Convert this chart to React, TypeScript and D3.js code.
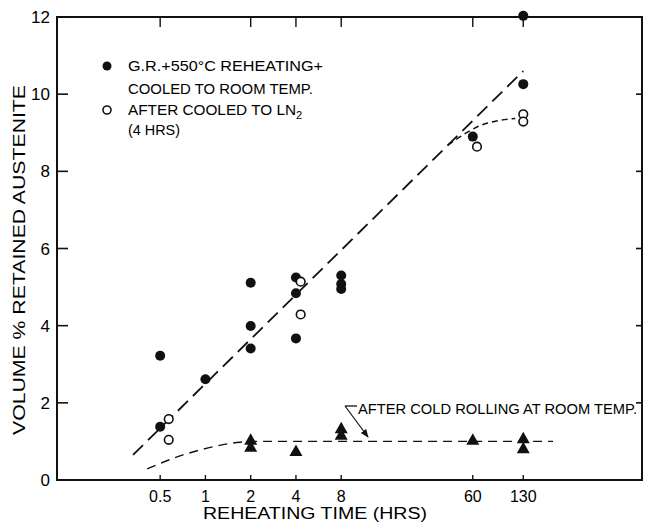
import React from "react";
import * as d3 from "d3";

const W = 647;
const H = 523;

const xTicksBottom = [0.5, 1, 2, 4, 8, 60, 130];
const xTickLabels = ["0.5", "1", "2", "4", "8", "60", "130"];
const xTicksTop = [0.5, 2, 4, 8, 60, 130];
const yTicks = [0, 2, 4, 6, 8, 10, 12];
const yTickLabels = ["0", "2", "4", "6", "8", "10", "12"];
const rightTicks = [2, 4, 6, 8, 10];

// G.R. + 550°C reheating + cooled to room temp (filled circles)
const filledX = [0.5, 0.5, 1, 2, 2, 2, 4, 4, 4, 8, 8, 8, 60, 130, 130];
const filledY = [3.22, 1.38, 2.61, 5.11, 3.99, 3.41, 5.25, 4.84, 3.67, 5.3, 5.08, 4.95, 8.9, 10.26, 12.03];

// After cooled to LN2 (open circles)
const openX = [0.57, 0.57, 4.3, 4.3, 64, 130, 130];
const openY = [1.58, 1.04, 5.14, 4.29, 8.64, 9.48, 9.29];

// After cold rolling at room temp (triangles)
const triX = [2, 2, 4, 8, 8, 60, 130, 130];
const triY = [1.04, 0.86, 0.75, 1.34, 1.17, 1.04, 1.08, 0.82];

// fitted lines
const fitX = [0.33, 130];
const fitY = [0.65, 10.6];
const ln2X = [41, 52, 64, 85, 115];
const ln2Y = [8.68, 8.95, 9.15, 9.3, 9.37];
const coldX = [0.41, 0.71, 1.12, 1.7, 2.2, 205];
const coldY = [0.29, 0.65, 0.86, 0.98, 1.0, 1.0];

const X0 = 57, X1 = 642, Y0 = 480, Y1 = 17;

export default function App() {
  const x = d3.scaleLog().domain([0.103, 801]).range([X0, X1]);
  const y = d3.scaleLinear().domain([0, 12]).range([Y0, Y1]);
  const zip = (a: number[], b: number[]) => a.map((v, i) => [v, b[i]] as [number, number]);
  const lineStraight = d3.line<[number, number]>().x(d => x(d[0])).y(d => y(d[1]));
  const lineCurve = d3.line<[number, number]>().x(d => x(d[0])).y(d => y(d[1])).curve(d3.curveMonotoneX);
  const font = "'Liberation Sans', Arial, sans-serif";
  const tri = (cx: number, cy: number) => `M${cx},${cy - 6.5} L${cx + 6.5},${cy + 5} L${cx - 6.5},${cy + 5} Z`;

  return (
    <svg width={W} height={H} style={{ position: "absolute", left: 0, top: 0, background: "#fff" }} fontFamily={font}>
      <defs>
        <marker id="arr" viewBox="0 0 10 10" refX="9" refY="5" markerWidth="7" markerHeight="7" orient="auto">
          <path d="M0,1 L10,5 L0,9 Z" fill="#111" />
        </marker>
      </defs>
      {/* frame */}
      <path d={`M${X0},${Y1} L${X1},${Y1} L${X1},${Y0} L${X0},${Y0} Z`} fill="none" stroke="#111" strokeWidth={2} />
      {/* left ticks */}
      {yTicks.map((t, i) => (
        <g key={"yl" + i}>
          <line x1={X0} x2={X0 + 11} y1={y(t)} y2={y(t)} stroke="#111" strokeWidth={1.6} />
          <text x={50} y={y(t) + 6} textAnchor="end" fontSize={17}>{yTickLabels[i]}</text>
        </g>
      ))}
      {/* right ticks */}
      {rightTicks.map((t, i) => (
        <line key={"yr" + i} x1={X1 - 6} x2={X1} y1={y(t)} y2={y(t)} stroke="#111" strokeWidth={1.6} />
      ))}
      {/* bottom ticks */}
      {xTicksBottom.map((t, i) => (
        <g key={"xb" + i}>
          <line x1={x(t)} x2={x(t)} y1={Y0} y2={Y0 - 5} stroke="#111" strokeWidth={1.4} />
          <text x={x(t)} y={502} textAnchor="middle" fontSize={16}>{xTickLabels[i]}</text>
        </g>
      ))}
      {/* top ticks */}
      {xTicksTop.map((t, i) => (
        <line key={"xt" + i} x1={x(t)} x2={x(t)} y1={Y1} y2={Y1 + 10} stroke="#111" strokeWidth={1.4} />
      ))}
      {/* axis titles */}
      <text x={203} y={519} fontSize={16} textLength={224} lengthAdjust="spacingAndGlyphs">REHEATING TIME (HRS)</text>
      <text transform="translate(25,260) rotate(-90)" textAnchor="middle" fontSize={16} textLength={350} lengthAdjust="spacingAndGlyphs">VOLUME % RETAINED AUSTENITE</text>

      {/* lines */}
      <path d={lineStraight(zip(fitX, fitY)) || ""} fill="none" stroke="#111" strokeWidth={1.8} strokeDasharray="14,7" />
      <path d={lineCurve(zip(ln2X, ln2Y)) || ""} fill="none" stroke="#111" strokeWidth={1.5} strokeDasharray="6,4" />
      <path d={lineCurve(zip(coldX, coldY)) || ""} fill="none" stroke="#111" strokeWidth={1.4} strokeDasharray="9,6" />

      {/* markers */}
      {filledX.map((v, i) => (
        <circle key={"f" + i} cx={x(v)} cy={y(filledY[i])} r={5} fill="#111" />
      ))}
      {openX.map((v, i) => (
        <circle key={"o" + i} cx={x(v)} cy={y(openY[i])} r={4.3} fill="#fff" stroke="#111" strokeWidth={1.6} />
      ))}
      {triX.map((v, i) => (
        <path key={"t" + i} d={tri(x(v), y(triY[i]))} fill="#111" />
      ))}

      {/* legend */}
      <circle cx={107} cy={66} r={4.5} fill="#111" />
      <text x={128} y={71} fontSize={14.5} textLength={195} lengthAdjust="spacingAndGlyphs">G.R.+550°C REHEATING+</text>
      <text x={128} y={94} fontSize={14.5} textLength={185} lengthAdjust="spacingAndGlyphs">COOLED TO ROOM TEMP.</text>
      <circle cx={107} cy={110} r={4} fill="#fff" stroke="#111" strokeWidth={1.6} />
      <text x={128} y={115} fontSize={14.5}>
        <tspan textLength={168} lengthAdjust="spacingAndGlyphs">AFTER COOLED TO LN</tspan>
        <tspan fontSize={11} dy={4}>2</tspan>
      </text>
      <text x={128} y={135} fontSize={14.5} textLength={52} lengthAdjust="spacingAndGlyphs">(4 HRS)</text>

      {/* annotation */}
      <line x1={345} x2={357} y1={406} y2={406} stroke="#111" strokeWidth={1.3} />
      <line x1={345} y1={406} x2={368} y2={437} stroke="#111" strokeWidth={1.2} markerEnd="url(#arr)" />
      <text x={358} y={414} fontSize={14.5} textLength={279} lengthAdjust="spacingAndGlyphs">AFTER COLD ROLLING AT ROOM TEMP.</text>
    </svg>
  );
}
